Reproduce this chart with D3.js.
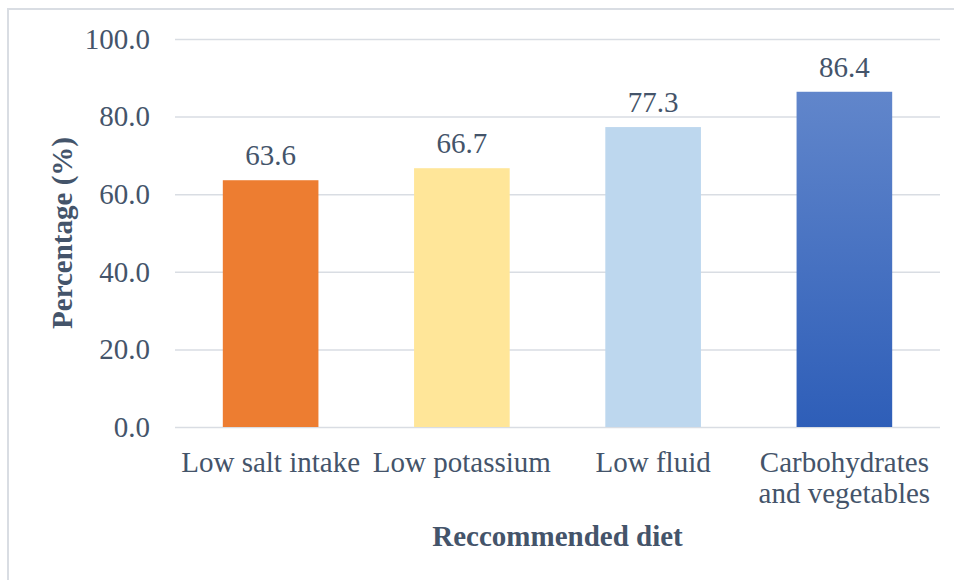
<!DOCTYPE html>
<html>
<head>
<meta charset="utf-8">
<script src="https://cdn.jsdelivr.net/npm/d3@7"></script>
<style>
  html, body { margin: 0; padding: 0; background: #fff; }
  svg { display: block; }
  text { font-family: "Liberation Serif", "Times New Roman", serif; fill: #44546a; }
</style>
</head>
<body>
<svg id="chart" width="954" height="580"></svg>
<script>
// Diet recommendations and the share of respondents following each
const categories = ["Low salt intake", "Low potassium", "Low fluid", "Carbohydrates and vegetables"];
const categoryLines = [["Low salt intake"], ["Low potassium"], ["Low fluid"], ["Carbohydrates", "and vegetables"]];
const values = [63.6, 66.7, 77.3, 86.4];
const tickValues = [0, 20, 40, 60, 80, 100];
const barFills = ["#ed7d31", "#ffe699", "#bdd7ee", "url(#blueGrad)"];

const FONT = "'Liberation Serif', 'Times New Roman', serif";
const svg = d3.select("#chart");
const W = 954, H = 580;
const plot = { left: 175, right: 940, top: 39, bottom: 427 };

// outer chart frame
svg.append("rect")
  .attr("x", 8).attr("y", 9)
  .attr("width", W + 10).attr("height", H + 10)
  .attr("fill", "none").attr("stroke", "#d9dde3").attr("stroke-width", 2);

const defs = svg.append("defs");
const grad = defs.append("linearGradient").attr("id", "blueGrad")
  .attr("x1", 0).attr("y1", 0).attr("x2", 0).attr("y2", 1);
grad.append("stop").attr("offset", "0%").attr("stop-color", "#6186cb");
grad.append("stop").attr("offset", "100%").attr("stop-color", "#2e5eb8");

const x = d3.scaleBand().domain(categories)
  .range([plot.left, plot.right]).paddingInner(0.5).paddingOuter(0.25);
const y = d3.scaleLinear().domain([0, 100]).range([plot.bottom, plot.top]);

// gridlines and y tick labels
const yAxis = d3.axisLeft(y).tickValues(tickValues)
  .tickFormat(d3.format(".1f"))
  .tickSize(-(plot.right - plot.left)).tickPadding(25);
const gy = svg.append("g").attr("transform", `translate(${plot.left},0)`).call(yAxis)
  .attr("font-family", FONT);
gy.select(".domain").remove();
gy.selectAll(".tick line").attr("stroke", "#d9dde3").attr("stroke-width", 1.5);
gy.selectAll(".tick text")
  .attr("font-size", 29).attr("fill", "#44546a")
  .style("font-family", FONT);

// bars
svg.append("g").selectAll("rect").data(values).join("rect")
  .attr("x", (d, i) => x(categories[i]))
  .attr("y", d => y(d))
  .attr("width", x.bandwidth())
  .attr("height", d => y(0) - y(d))
  .attr("fill", (d, i) => barFills[i]);

// value labels above bars
svg.append("g").selectAll("text").data(values).join("text")
  .attr("x", (d, i) => x(categories[i]) + x.bandwidth() / 2)
  .attr("y", d => y(d) - 15)
  .attr("text-anchor", "middle")
  .attr("font-size", 29)
  .style("font-family", FONT)
  .text(d => d.toFixed(1));

// category labels
const cat = svg.append("g").selectAll("text").data(categories).join("text")
  .attr("text-anchor", "middle")
  .attr("font-size", 29)
  .style("font-family", FONT)
  .attr("x", d => x(d) + x.bandwidth() / 2)
  .attr("y", 472);
cat.each(function(d, i) {
  const t = d3.select(this);
  categoryLines[i].forEach((line, j) => {
    t.append("tspan")
      .attr("x", x(d) + x.bandwidth() / 2)
      .attr("dy", j === 0 ? 0 : 31)
      .text(line);
  });
});

// axis titles
svg.append("text")
  .attr("x", (plot.left + plot.right) / 2).attr("y", 546)
  .attr("text-anchor", "middle")
  .attr("font-size", 29).attr("font-weight", "bold")
  .style("font-family", FONT)
  .text("Reccommended diet");

svg.append("text")
  .attr("transform", `translate(72,${(plot.top + plot.bottom) / 2}) rotate(-90)`)
  .attr("text-anchor", "middle")
  .attr("font-size", 29).attr("font-weight", "bold")
  .style("font-family", FONT)
  .text("Percentage (%)");
</script>
</body>
</html>
